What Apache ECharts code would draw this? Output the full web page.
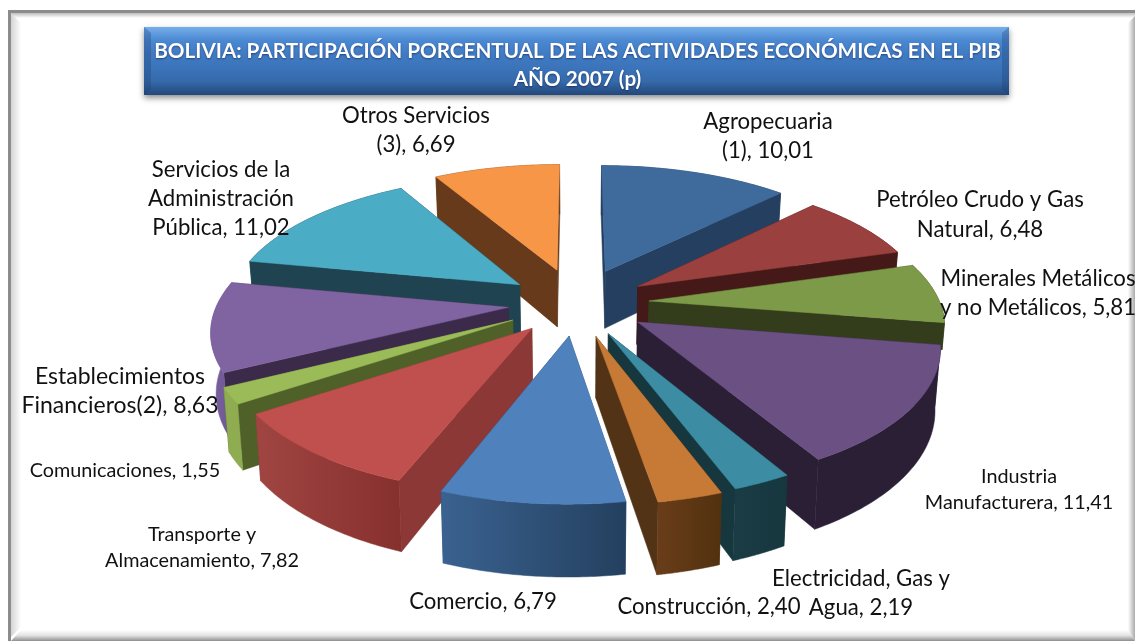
<!DOCTYPE html>
<html><head><meta charset="utf-8">
<style>html,body{margin:0;padding:0;background:#fff}#c{width:1135px;height:641px}</style>
<script src="https://cdn.jsdelivr.net/npm/echarts@6/dist/echarts.min.js"></script>
</head><body><div id="c"></div>
<script>
const titleText = 'BOLIVIA: PARTICIPACIÓN PORCENTUAL DE LAS ACTIVIDADES ECONÓMICAS EN EL PIB\nAÑO 2007 (p)';
const categories = ['Agropecuaria\n(1)','Petróleo Crudo y Gas\nNatural','Minerales Metálicos\ny no Metálicos','Industria\nManufacturera','Electricidad, Gas y\nAgua','Construcción','Comercio','Transporte y\nAlmacenamiento','Comunicaciones','Establecimientos\nFinancieros(2)','Servicios de la\nAdministración\nPública','Otros Servicios\n(3)'];
const values = [10.01,6.48,5.81,11.41,2.19,2.40,6.79,7.82,1.55,8.63,11.02,6.69];

// styles, one per slice
const topColors  = ['#3F6A9C','#9A403E','#7C9A48','#6A5083','#3C8DA3','#C77A36','#4F81BD','#C0504D','#9BBB59','#8064A2','#4BACC6','#F79646'];
const wallColors = ['#243F5F','#441917','#343D1B','#2A1F35','#17373F','#523315','#2A4A70','#8B3836','#4F6129','#3B2A4A','#1F4350','#663A1B'];
const arcLeft    = ['#243F5F','#441917','#343D1B','#2A1F35','#1A3C45','#6A3D19','#3A6290','#A04542','#8FAD50','#7A60A0','#1F4350','#663A1B'];
const arcRight   = ['#243F5F','#441917','#343D1B','#2A1F35','#17373F','#52310F','#24405F','#86302E','#8FAD50','#6B5590','#1F4350','#663A1B'];
const explode    = [0.27,0.25,0.25,0.25,0.25,0.255,0.245,0.24,0.25,0.235,0.245,0.27];
const wallScale  = [1,1,0.45,1,1,1,1,1,1,1,1,1];
const labelCfg = [
 {x:768,y:136,s:22.2,lh:29},{x:980,y:214.5,s:22.2,lh:30},{x:1038,y:293,s:22.2,lh:29},{x:1019,y:489.5,s:19.8,lh:26},
 {x:861,y:593,s:22.2,lh:29},{x:709,y:607,s:22.2,lh:29},{x:483,y:602,s:22.2,lh:29},{x:202,y:547.5,s:19.8,lh:26},
 {x:125,y:471,s:19.8,lh:26},{x:120,y:391,s:23,lh:29},{x:221,y:199,s:22.2,lh:29},{x:416,y:130,s:22.2,lh:29}
];
// projection of the pie's plane
const CX=576.5, CY=303, R=291, K=0.45, P=0.153, H=59, XS=0.985;

const total = values.reduce((a,b)=>a+b,0);
const slices = []; let acc = 0;
values.forEach(v=>{const a0=acc/total*2*Math.PI; acc+=v; slices.push([a0,acc/total*2*Math.PI]);});
const project = (X,Y,depth)=>{
  const w = 1/(1-P*Y);
  const sx = R*X*w;
  if(!depth) return [CX+sx, CY+R*K*Y*w];
  return [CX+sx*(1-(1-XS)*depth), CY+R*K*Y*w+H*depth*w];
};
const order = values.map((_,i)=>i).sort((a,b)=>{
  const m=i=>-Math.cos((slices[i][0]+slices[i][1])/2);
  return m(a)-m(b);
});
const poly=(pts,fill,z2)=>({type:'polygon',z2,silent:true,shape:{points:pts},style:{fill,stroke:fill,lineWidth:0.5}});

function renderSlice(params,api){
  const i=api.value(0), [a0,a1]=slices[i], mid=(a0+a1)/2, e=explode[i], d=wallScale[i];
  const ox=e*Math.sin(mid), oy=-e*Math.cos(mid);
  const z=order.indexOf(i)*10;
  const arcT=[],arcB=[]; const n=48;
  for(let k=0;k<=n;k++){
    const a=a0+(a1-a0)*k/n, X=ox+Math.sin(a), Y=oy-Math.cos(a);
    arcT.push(project(X,Y,0)); arcB.push(project(X,Y,d));
  }
  const apT=project(ox,oy,0), apB=project(ox,oy,d);
  const grad=new echarts.graphic.LinearGradient(0,0,1,0,[{offset:0,color:arcLeft[i]},{offset:1,color:arcRight[i]}]);
  return {type:'group',children:[
    poly([apT,arcT[0],arcB[0],apB],wallColors[i],z+1),
    poly([apT,arcT[n],arcB[n],apB],wallColors[i],z+2),
    poly(arcT.concat(arcB.slice().reverse()),grad,z+3),
    poly([apT].concat(arcT),topColors[i],z+4)
  ]};
}
function renderLabel(params,api){
  const i=api.value(0), c=labelCfg[i];
  return {type:'text',z2:1000,silent:true,x:c.x,y:c.y,style:{
    text:categories[i]+', '+String(values[i].toFixed(2)).replace('.',','),
    fill:'#111',font:c.s+'px Lato, sans-serif',align:'center',verticalAlign:'middle',lineHeight:c.lh}};
}
const chart=echarts.init(document.getElementById('c'),null,{renderer:'canvas'});
const lg=(x0,y0,x1,y1,st)=>new echarts.graphic.LinearGradient(x0,y0,x1,y1,st.map((c,i)=>({offset:i/(st.length-1),color:c})));
chart.setOption({
  animation:false,
  backgroundColor:'#fff',
  title:{text:titleText,left:572.5,top:32,textAlign:'center',
    textStyle:{color:'#fff',fontFamily:'Lato, sans-serif',fontWeight:'bold',fontSize:20.7,lineHeight:28,
      textShadowColor:'rgba(0,0,40,.45)',textShadowBlur:2,textShadowOffsetY:1}},
  graphic:[
    {type:'rect',z:-10,silent:true,shape:{x:8,y:10,width:1127,height:3},style:{fill:'#8C8C8C'}},
    {type:'rect',z:-10,silent:true,shape:{x:8,y:10,width:3,height:631},style:{fill:'#8C8C8C'}},
    {type:'rect',z:-10,silent:true,shape:{x:11,y:13,width:1124,height:5},style:{fill:lg(0,0,0,1,['#BDBDBD','#FFFFFF'])}},
    {type:'polygon',z:-10,silent:true,shape:{points:[[11,13],[21,23],[21,627],[11,637]]},style:{fill:lg(0,0,1,0,['#D4D4D4','#FFFFFF'])}},
    {type:'polygon',z:-10,silent:true,shape:{points:[[1135,16],[1128,23],[1128,630],[1135,641]]},style:{fill:lg(0,0,1,0,['#FFFFFF','#ABABAB'])}},
    {type:'polygon',z:-10,silent:true,shape:{points:[[11,641],[21,630],[1128,630],[1135,641]]},style:{fill:lg(0,0,0,1,['#FFFFFF','#E2E2E2','#8E8E8E'])}},
    {type:'rect',z:-5,silent:true,shape:{x:144,y:27,width:865,height:68},style:{fill:lg(0,0,0,1,['#76AEEA','#4A88D2','#407BC2','#3B74BA','#356AAB','#23477A']),
      shadowColor:'rgba(0,0,0,.45)',shadowBlur:6,shadowOffsetY:3}},
    {type:'polygon',z:-5,silent:true,shape:{points:[[144,27],[151,33],[151,89],[144,95]]},style:{fill:'rgba(30,60,110,.3)'}},
    {type:'polygon',z:-5,silent:true,shape:{points:[[1009,27],[1002,33],[1002,89],[1009,95]]},style:{fill:'rgba(30,60,110,.3)'}}
  ],
  series:[
    {type:'custom',coordinateSystem:'none',silent:true,clip:false,renderItem:renderSlice,data:order.map(i=>[i])},
    {type:'custom',coordinateSystem:'none',silent:true,z:5,clip:false,renderItem:renderLabel,data:values.map((_,i)=>[i])}
  ]
});
</script></body></html>
